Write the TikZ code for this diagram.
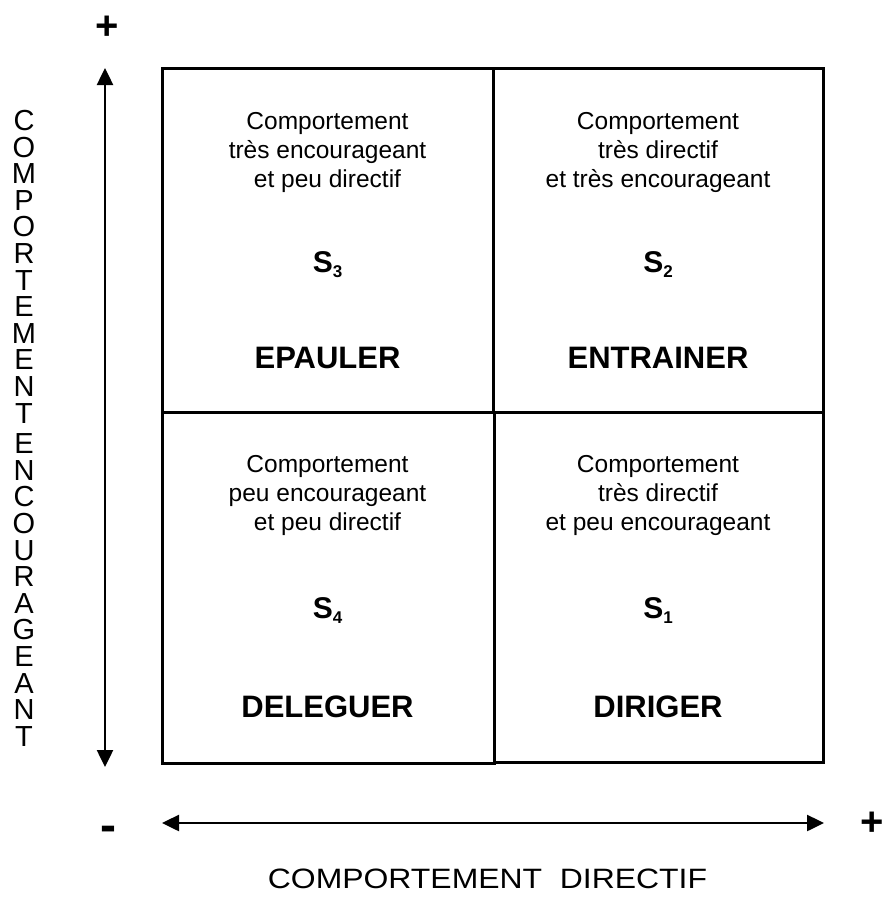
\documentclass[tikz,border=0pt]{standalone}
\usepackage{fontspec}
\setmainfont{Liberation Sans}
\usetikzlibrary{arrows.meta}

\tikzset{
	quad/.style={line width=3pt},
	axis/.style={line width=2.5pt,{Triangle[length=17pt,width=16pt]}-{Triangle[length=17pt,width=16pt]}},
	desc/.style={align=center,inner sep=0pt,font=\fontsize{24.5}{29}\selectfont},
	sitnode/.style={inner sep=0pt,anchor=base,font=\bfseries\fontsize{30}{36}\selectfont},
	verb/.style={inner sep=0pt,anchor=base,font=\bfseries\fontsize{31}{37}\selectfont},
	sign/.style={inner sep=0pt,font=\bfseries\fontsize{40}{44}\selectfont},
}
\newcommand{\sit}[1]{S\raisebox{-5pt}{\fontsize{17}{17}\selectfont #1}}

\begin{document}
\begin{tikzpicture}[x=1pt,y=-1pt]
	\useasboundingbox (0,0) rectangle (886,898);
	% quadrants
	\draw [quad] (162,68) rectangle (493,412);
	\draw [quad] (493,68) rectangle (823,412);
	\draw [quad] (162,412) rectangle (494,763);
	\draw [quad] (494,412) rectangle (823,762);
	% top left
	\node [desc] (d3) at (327.5,152.5) {Comportement\\très encourageant\\et peu directif};
	\node [sitnode] (s3) at (327.5,272) {\sit{3}};
	\node [verb] (epauler) at (327.5,368) {EPAULER};
	% top right
	\node [desc] (d2) at (658,152.5) {Comportement\\très directif\\et très encourageant};
	\node [sitnode] (s2) at (658,272) {\sit{2}};
	\node [verb] (entrainer) at (658,368) {ENTRAINER};
	% bottom left
	\node [desc] (d4) at (327.5,495) {Comportement\\peu encourageant\\et peu directif};
	\node [sitnode] (s4) at (327.5,618) {\sit{4}};
	\node [verb] (deleguer) at (327.5,717) {DELEGUER};
	% bottom right
	\node [desc] (d1) at (658,495) {Comportement\\très directif\\et peu encourageant};
	\node [sitnode] (s1) at (658,618) {\sit{1}};
	\node [verb] (diriger) at (658,717) {DIRIGER};
	% axes
	\coordinate (ytop) at (105,68);
	\coordinate (ybot) at (105,767);
	\coordinate (xleft) at (162,823);
	\coordinate (xright) at (824,823);
	\draw [axis] (ybot) -- (ytop);
	\draw [axis] (xleft) -- (xright);
	\node [sign] (yplus) at (107.5,28) {+};
	\node [sign,anchor=base,font=\bfseries\fontsize{48}{52}\selectfont] (xminus) at (108.5,841) {-};
	\node [sign] (xplus) at (872,824) {+};
	\node [inner sep=0pt,anchor=base,font=\fontsize{28}{32}\selectfont] (xlabel) at (487.5,888) {\scalebox{1.14}[1]{COMPORTEMENT\ \ DIRECTIF}};
	\node [inner sep=0pt,anchor=north,align=center,font=\fontsize{29}{26.6}\selectfont] (ylabel) at (24,110) {C\\O\\M\\P\\O\\R\\T\\E\\M\\E\\N\\T\\[4pt]E\\N\\C\\O\\U\\R\\A\\G\\E\\A\\N\\T};
\end{tikzpicture}
\end{document}
